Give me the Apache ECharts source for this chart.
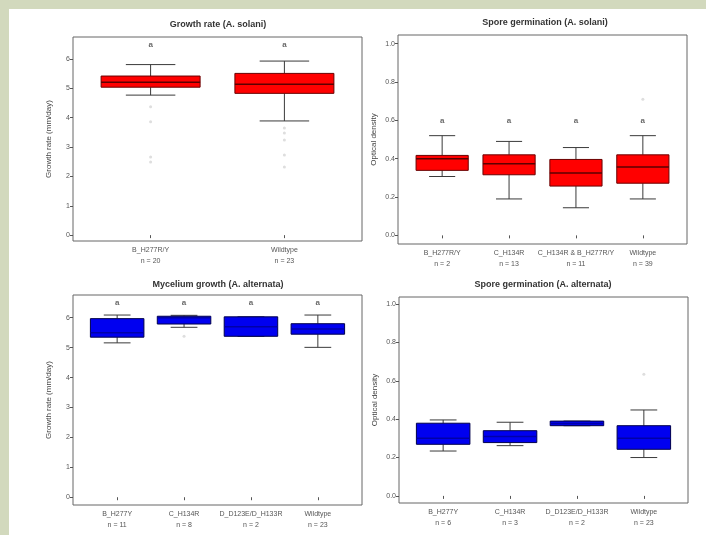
<!DOCTYPE html>
<html>
<head>
<meta charset="utf-8">
<script src="https://cdn.jsdelivr.net/npm/echarts@6/dist/echarts.min.js"></script>
<style>
html,body{margin:0;padding:0;background:#d2d9bd;}
#chart{width:706px;height:535px;}
</style>
</head>
<body>
<div id="chart"></div>
<script>
// ---------- Panel 1: Growth rate (A. solani) ----------
const tlTitle = 'Growth rate (A. solani)';
const tlCategories = ['B_H277R/Y', 'Wildtype'];
const tlCounts = [20, 23];
const tlWhiskerLow = [4.77, 3.89];
const tlQ1 = [5.04, 4.83];
const tlMedian = [5.21, 5.14];
const tlQ3 = [5.42, 5.51];
const tlWhiskerHigh = [5.81, 5.93];
const tlOutliers = [[1, 4.37], [1, 3.86], [1, 2.66], [1, 2.49], [2, 3.65], [2, 3.48], [2, 3.24], [2, 2.73], [2, 2.32]];
const tlLetters = ['a', 'a'];
const tlLetterValue = 6.5;
const tlTicks = [0, 1, 2, 3, 4, 5, 6];

// ---------- Panel 2: Spore germination (A. solani) ----------
const trTitle = 'Spore germination (A. solani)';
const trCategories = ['B_H277R/Y', 'C_H134R', 'C_H134R & B_H277R/Y', 'Wildtype'];
const trCounts = [2, 13, 11, 39];
const trWhiskerLow = [0.307, 0.19, 0.144, 0.19];
const trQ1 = [0.339, 0.316, 0.257, 0.272];
const trMedian = [0.40, 0.373, 0.325, 0.356];
const trQ3 = [0.417, 0.42, 0.396, 0.42];
const trWhiskerHigh = [0.52, 0.49, 0.458, 0.52];
const trOutliers = [[4, 0.71]];
const trLetters = ['a', 'a', 'a', 'a'];
const trLetterValue = 0.6;
const trTicks = [0, 0.2, 0.4, 0.6, 0.8, 1.0];

// ---------- Panel 3: Mycelium growth (A. alternata) ----------
const blTitle = 'Mycelium growth (A. alternata)';
const blCategories = ['B_H277Y', 'C_H134R', 'D_D123E/D_H133R', 'Wildtype'];
const blCounts = [11, 8, 2, 23];
const blWhiskerLow = [5.16, 5.68, 5.38, 5.01];
const blQ1 = [5.35, 5.79, 5.38, 5.45];
const blMedian = [5.5, 6.0, 5.7, 5.62];
const blQ3 = [5.97, 6.05, 6.03, 5.80];
const blWhiskerHigh = [6.09, 6.08, 6.03, 6.09];
const blOutliers = [[2, 5.38]];
const blLetters = ['a', 'a', 'a', 'a'];
const blLetterValue = 6.5;
const blTicks = [0, 1, 2, 3, 4, 5, 6];

// ---------- Panel 4: Spore germination (A. alternata) ----------
const brTitle = 'Spore germination (A. alternata)';
const brCategories = ['B_H277Y', 'C_H134R', 'D_D123E/D_H133R', 'Wildtype'];
const brCounts = [6, 3, 2, 23];
const brWhiskerLow = [0.234, 0.262, 0.366, 0.20];
const brQ1 = [0.269, 0.278, 0.366, 0.243];
const brMedian = [0.30, 0.31, 0.378, 0.30];
const brQ3 = [0.379, 0.34, 0.39, 0.366];
const brWhiskerHigh = [0.396, 0.384, 0.39, 0.448];
const brOutliers = [[4, 0.634]];
const brLetters = [];
const brLetterValue = 0;
const brTicks = [0, 0.2, 0.4, 0.6, 0.8, 1.0];

const FONT = 'Liberation Sans, Arial, sans-serif';

const panels = [
  {title: tlTitle, cats: tlCategories, n: tlCounts, lo: tlWhiskerLow, q1: tlQ1, md: tlMedian, q3: tlQ3, hi: tlWhiskerHigh,
   out: tlOutliers, letters: tlLetters, letterY: tlLetterValue, ticks: tlTicks, yName: 'Growth rate (mm/day)',
   grid: {left: 73, top: 37, width: 289, height: 204}, yMin: -0.2, yMax: 6.75, xMin: 0.42, xMax: 2.58, boxW: 0.74,
   fill: '#ff0000', stroke: '#6a0000', med: '#5a0000', titleX: 218, titleY: 25, dec: 0},
  {title: trTitle, cats: trCategories, n: trCounts, lo: trWhiskerLow, q1: trQ1, md: trMedian, q3: trQ3, hi: trWhiskerHigh,
   out: trOutliers, letters: trLetters, letterY: trLetterValue, ticks: trTicks, yName: 'Optical density',
   grid: {left: 398, top: 35, width: 289, height: 209}, yMin: -0.045, yMax: 1.045, xMin: 0.34, xMax: 4.66, boxW: 0.78,
   fill: '#ff0000', stroke: '#6a0000', med: '#5a0000', titleX: 545, titleY: 23, dec: 1},
  {title: blTitle, cats: blCategories, n: blCounts, lo: blWhiskerLow, q1: blQ1, md: blMedian, q3: blQ3, hi: blWhiskerHigh,
   out: blOutliers, letters: blLetters, letterY: blLetterValue, ticks: blTicks, yName: 'Growth rate (mm/day)',
   grid: {left: 73, top: 295, width: 289, height: 210}, yMin: -0.26, yMax: 6.76, xMin: 0.34, xMax: 4.66, boxW: 0.8,
   fill: '#0000f0', stroke: '#00004a', med: '#0000a8', titleX: 218, titleY: 285, dec: 0},
  {title: brTitle, cats: brCategories, n: brCounts, lo: brWhiskerLow, q1: brQ1, md: brMedian, q3: brQ3, hi: brWhiskerHigh,
   out: brOutliers, letters: brLetters, letterY: brLetterValue, ticks: brTicks, yName: 'Optical density',
   grid: {left: 399, top: 297, width: 289, height: 206}, yMin: -0.037, yMax: 1.037, xMin: 0.34, xMax: 4.66, boxW: 0.8,
   fill: '#0000f0', stroke: '#00004a', med: '#0000a8', titleX: 543, titleY: 285, dec: 1}
];

function boxRenderer(p) {
  return function (params, api) {
    const x = api.value(0);
    const lo = api.value(1), q1 = api.value(2), md = api.value(3), q3 = api.value(4), hi = api.value(5);
    const w = p.boxW;
    const left = api.coord([x - w / 2, q3]);
    const right = api.coord([x + w / 2, q1]);
    const capL = api.coord([x - w / 4, hi])[0];
    const capR = api.coord([x + w / 4, hi])[0];
    const cx = api.coord([x, q1])[0];
    const yHi = api.coord([x, hi])[1];
    const yLo = api.coord([x, lo])[1];
    const yQ1 = api.coord([x, q1])[1];
    const yQ3 = api.coord([x, q3])[1];
    const yMd = api.coord([x, md])[1];
    const wStyle = {stroke: '#3a3a3a', lineWidth: 1};
    return {
      type: 'group',
      children: [
        {type: 'line', shape: {x1: cx, y1: yHi, x2: cx, y2: yQ3}, style: wStyle},
        {type: 'line', shape: {x1: cx, y1: yQ1, x2: cx, y2: yLo}, style: wStyle},
        {type: 'line', shape: {x1: capL, y1: yHi, x2: capR, y2: yHi}, style: wStyle},
        {type: 'line', shape: {x1: capL, y1: yLo, x2: capR, y2: yLo}, style: wStyle},
        {type: 'rect', shape: {x: left[0], y: left[1], width: right[0] - left[0], height: Math.max(right[1] - left[1], 2)},
         style: {fill: p.fill, stroke: p.stroke, lineWidth: 1}},
        {type: 'line', shape: {x1: left[0], y1: yMd, x2: right[0], y2: yMd}, style: {stroke: p.med, lineWidth: 1.5}}
      ]
    };
  };
}

const grids = [], xAxes = [], yAxes = [], series = [], graphics = [];
graphics.push({type: 'rect', shape: {x: 9, y: 9, width: 697, height: 526}, style: {fill: '#ffffff'}, z: -10, silent: true});

panels.forEach(function (p, i) {
  grids.push(Object.assign({show: true, borderColor: '#666', borderWidth: 1, backgroundColor: '#fff'}, p.grid));
  const tickIdx = p.cats.map(function (c, k) { return k + 1; });
  xAxes.push({
    type: 'value', gridIndex: i, min: p.xMin, max: p.xMax,
    axisLine: {show: false}, splitLine: {show: false},
    axisTick: {show: true, customValues: tickIdx, length: 3, lineStyle: {color: '#555'}},
    axisLabel: {customValues: tickIdx, fontSize: 7, lineHeight: 11, margin: 4, color: '#555', fontFamily: FONT,
      formatter: function (v) { const k = Math.round(v) - 1; return p.cats[k] + '\nn = ' + p.n[k]; }}
  });
  yAxes.push({
    type: 'value', gridIndex: i, min: p.yMin, max: p.yMax,
    name: p.yName, nameLocation: 'middle', nameGap: 20,
    nameTextStyle: {fontSize: 8, color: '#444', fontFamily: FONT},
    axisLine: {show: false}, splitLine: {show: false},
    axisTick: {show: true, customValues: p.ticks, length: 3, lineStyle: {color: '#555'}},
    axisLabel: {customValues: p.ticks, fontSize: 7, margin: 3, color: '#555', fontFamily: FONT,
      formatter: function (v) { return v.toFixed(p.dec); }}
  });
  const boxData = p.cats.map(function (c, k) { return [k + 1, p.lo[k], p.q1[k], p.md[k], p.q3[k], p.hi[k]]; });
  series.push({
    type: 'custom', xAxisIndex: i, yAxisIndex: i, renderItem: boxRenderer(p),
    encode: {x: 0, y: [1, 2, 3, 4, 5]}, data: boxData, silent: true, z: 3
  });
  series.push({
    type: 'scatter', xAxisIndex: i, yAxisIndex: i, data: p.out, symbol: 'circle', symbolSize: 3,
    itemStyle: {color: '#d6d6d6'}, silent: true, z: 2
  });
  if (p.letters.length) {
    series.push({
      type: 'scatter', xAxisIndex: i, yAxisIndex: i, symbolSize: 0,
      data: p.letters.map(function (l, k) { return [k + 1, p.letterY]; }),
      label: {show: true, position: 'inside', fontSize: 8, color: '#444', fontWeight: 'bold', fontFamily: FONT,
        formatter: function (d) { return p.letters[d.dataIndex]; }},
      silent: true, z: 4
    });
  }
  graphics.push({type: 'text', x: p.titleX, y: p.titleY, z: 10,
    style: {text: p.title, font: 'bold 9px ' + FONT, fill: '#333', textAlign: 'center', textVerticalAlign: 'middle'}});
});

const chart = echarts.init(document.getElementById('chart'), null, {renderer: 'canvas'});
chart.setOption({
  backgroundColor: '#d2d9bd',
  animation: false,
  grid: grids, xAxis: xAxes, yAxis: yAxes, series: series, graphic: graphics
});
</script>
</body>
</html>
